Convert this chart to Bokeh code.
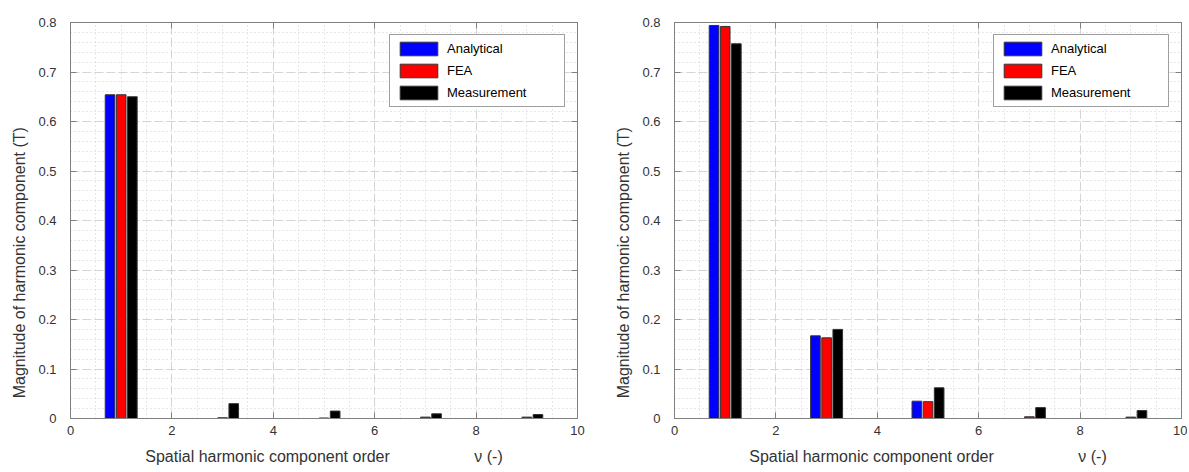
from bokeh.plotting import figure
from bokeh.models import (ColumnDataSource, FixedTicker, Legend, LegendItem,
                          LinearAxis, Range1d)
from bokeh.layouts import row
from bokeh.transform import dodge
from bokeh.embed import file_html
from bokeh.resources import INLINE

# ---------------- data ----------------
orders = [1, 3, 5, 7, 9]
series_names = ["Analytical", "FEA", "Measurement"]
series_colors = ["#0000ff", "#ff0000", "#000000"]

left_analytical = [0.654, 0.0, 0.0, 0.0, 0.0]
left_fea = [0.654, 0.0015, 0.001, 0.0028, 0.0028]
left_measurement = [0.650, 0.030, 0.015, 0.0095, 0.008]

right_analytical = [0.794, 0.167, 0.035, 0.0, 0.0]
right_fea = [0.792, 0.163, 0.034, 0.0035, 0.0028]
right_measurement = [0.757, 0.180, 0.062, 0.022, 0.016]

x_ticks = [0, 2, 4, 6, 8, 10]
y_ticks = [0, 0.1, 0.2, 0.3, 0.4, 0.5, 0.6, 0.7, 0.8]
x_minor = [i * 0.5 for i in range(21)]
y_minor = [i * 0.02 for i in range(41)]

NB = "\u00a0"
x_label = "Spatial harmonic component order" + NB * 19 + "ν" + NB + "(-)"
y_label = "Magnitude of harmonic component (T)" + NB * 19

FONT = "Liberation Sans"
FRAME = "#808080"
TXT = "#333333"


def make_fig(a, f, m, border_left, border_right):
    src = ColumnDataSource(dict(x=orders, a=a, f=f, m=m))
    p = figure(frame_width=507, frame_height=396,
               min_border_left=border_left, min_border_right=border_right,
               min_border_top=22, min_border_bottom=50,
               x_range=Range1d(0, 10), y_range=Range1d(0, 0.8),
               output_backend="svg", toolbar_location=None,
               background_fill_color="white", border_fill_color="white")
    rs = []
    for col, off, color in zip(["a", "f", "m"], [-0.22, 0.0, 0.22], series_colors):
        r = p.vbar(x=dodge("x", off, range=p.x_range), top=col, width=0.19,
                   bottom=0, source=src, fill_color=color,
                   line_color="#333333", line_width=1)
        rs.append(r)

    xt = FixedTicker(ticks=x_ticks, minor_ticks=x_minor)
    yt = FixedTicker(ticks=y_ticks, minor_ticks=y_minor)
    p.xaxis.ticker = xt
    p.yaxis.ticker = yt
    p.yaxis.major_label_overrides = {0: "0"}
    for ax in p.xaxis + p.yaxis:
        ax.major_tick_in = 6
        ax.major_tick_out = 0
        ax.minor_tick_in = 0
        ax.minor_tick_out = 0
        ax.axis_line_color = FRAME
        ax.major_tick_line_color = FRAME
        ax.major_label_text_font = FONT
        ax.major_label_text_font_size = "13px"
        ax.major_label_text_color = TXT
        ax.axis_label_text_font = FONT
        ax.axis_label_text_font_size = "16px"
        ax.axis_label_text_font_style = "normal"
        ax.axis_label_text_color = TXT
    p.xaxis.major_label_standoff = 7
    p.yaxis.major_label_standoff = 14
    p.xaxis.axis_label = x_label
    p.yaxis.axis_label = y_label
    p.xaxis.axis_label_standoff = 10
    p.yaxis.axis_label_standoff = 7

    # box ticks on top and right (no labels)
    for loc, tk, tv in [("above", xt, x_ticks), ("right", yt, y_ticks)]:
        ax = LinearAxis(ticker=tk, major_label_overrides={t: "" for t in tv},
                        major_label_standoff=0, major_tick_in=6, major_tick_out=0,
                        minor_tick_in=0, minor_tick_out=0,
                        axis_line_color=FRAME, major_tick_line_color=FRAME)
        p.add_layout(ax, loc)

    p.outline_line_color = FRAME
    p.xgrid.ticker = xt
    p.ygrid.ticker = yt
    for g in p.xgrid + p.ygrid:
        g.grid_line_color = "#d4d4d4"
        g.grid_line_dash = "8 4"
        g.minor_grid_line_color = "#cfcfcf"
        g.minor_grid_line_dash = "1 3"

    labels = [series_names[0], series_names[1], series_names[2] + NB * 9]
    legend = Legend(items=[LegendItem(label=n, renderers=[r]) for n, r in zip(labels, rs)],
                    location="top_right", margin=12, padding=5, spacing=5,
                    glyph_width=47, glyph_height=17, label_standoff=5,
                    label_text_font=FONT, label_text_font_size="13px",
                    label_text_color="black", border_line_color="#404040",
                    border_line_width=1, background_fill_alpha=1)
    p.add_layout(legend)
    return p


p1 = make_fig(left_analytical, left_fea, left_measurement, 70, 31)
p2 = make_fig(right_analytical, right_fea, right_measurement, 66, 6)

layout = row(p1, p2)
open("out.html", "w").write(file_html(layout, INLINE))
